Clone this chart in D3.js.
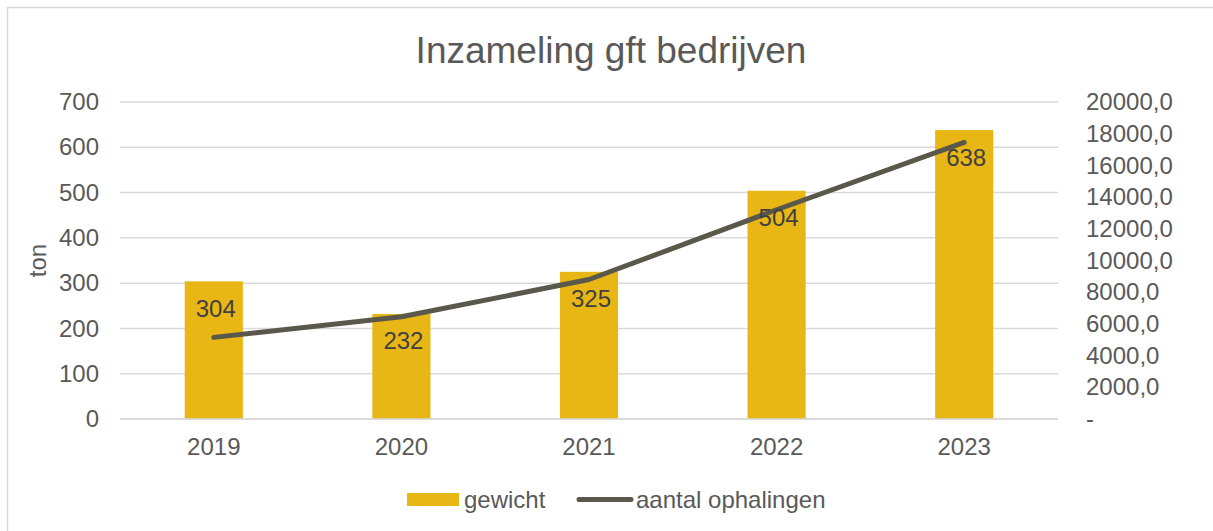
<!DOCTYPE html>
<html>
<head>
<meta charset="utf-8">
<script src="https://cdn.jsdelivr.net/npm/d3@7"></script>
<style>
  body { margin: 0; background: #fff; }
  svg { display: block; font-family: "Liberation Sans", Arial, sans-serif; }
</style>
</head>
<body>
<div id="chart"></div>
<script>
const years = ["2019", "2020", "2021", "2022", "2023"];
const gewicht = [304, 232, 325, 504, 638];
const ophalingen = [5150, 6450, 8800, 13200, 17450];
const leftTicks = [0, 100, 200, 300, 400, 500, 600, 700];
const rightTicks = [0, 2000, 4000, 6000, 8000, 10000, 12000, 14000, 16000, 18000, 20000];

const width = 1213, height = 531;
const margin = {top: 102, right: 155, bottom: 112, left: 120};
const visWidth = width - margin.left - margin.right;
const visHeight = height - margin.top - margin.bottom;

const barColor = "#E8B715";
const lineColor = "#59584A";
const textColor = "#595959";
const gridColor = "#D9D9D9";

const svg = d3.select("#chart").append("svg")
    .attr("width", width)
    .attr("height", height);

// chart border (only left/top visible)
svg.append("rect")
  .attr("x", 7.5).attr("y", 7.5)
  .attr("width", width + 20).attr("height", height + 20)
  .attr("fill", "none")
  .attr("stroke", gridColor)
  .attr("stroke-width", 1.5);

// title
svg.append("text")
  .attr("x", 611)
  .attr("y", 63)
  .attr("text-anchor", "middle")
  .attr("font-size", "37px")
  .attr("fill", textColor)
  .text("Inzameling gft bedrijven");

const g = svg.append("g")
  .attr("transform", `translate(${margin.left}, ${margin.top})`);

const x = d3.scaleBand()
  .domain(years)
  .range([0, visWidth])
  .paddingInner(0.69)
  .paddingOuter(0.345);

const y = d3.scaleLinear().domain([0, 700]).range([visHeight, 0]);
const y2 = d3.scaleLinear().domain([0, 20000]).range([visHeight, 0]);

// grid
g.append("g")
  .selectAll("line")
  .data(leftTicks)
  .join("line")
    .attr("x1", 0)
    .attr("x2", visWidth)
    .attr("y1", d => y(d))
    .attr("y2", d => y(d))
    .attr("stroke", gridColor)
    .attr("stroke-width", 1.5);

// left axis
const yAxis = d3.axisLeft(y).tickValues(leftTicks).tickSize(0).tickPadding(21);
g.append("g")
  .call(yAxis)
  .call(a => a.select(".domain").remove())
  .call(a => a.selectAll("text")
    .attr("font-size", "24px")
    .attr("font-family", "Liberation Sans, Arial, sans-serif")
    .attr("fill", textColor));

// right axis
const rightFormat = d => d === 0 ? "-" : d3.format(".1f")(d).replace(".", ",");
const y2Axis = d3.axisRight(y2).tickValues(rightTicks).tickFormat(rightFormat).tickSize(0).tickPadding(28);
g.append("g")
  .attr("transform", `translate(${visWidth}, 0)`)
  .call(y2Axis)
  .call(a => a.select(".domain").remove())
  .call(a => a.selectAll("text")
    .attr("font-size", "24px")
    .attr("font-family", "Liberation Sans, Arial, sans-serif")
    .attr("fill", textColor));

// axis title
g.append("text")
  .attr("transform", `translate(${37 - margin.left}, ${visHeight / 2}) rotate(-90)`)
  .attr("text-anchor", "middle")
  .attr("dominant-baseline", "central")
  .attr("font-size", "24px")
  .attr("fill", textColor)
  .text("ton");

// bars
g.selectAll("rect.bar")
  .data(years)
  .join("rect")
    .attr("class", "bar")
    .attr("x", d => x(d))
    .attr("y", (d, i) => y(gewicht[i]))
    .attr("width", x.bandwidth())
    .attr("height", (d, i) => visHeight - y(gewicht[i]))
    .attr("fill", barColor);

// baseline
g.append("line")
  .attr("x1", 0).attr("x2", visWidth)
  .attr("y1", visHeight).attr("y2", visHeight)
  .attr("stroke", gridColor)
  .attr("stroke-width", 1.5);

// x axis labels
const xAxis = d3.axisBottom(x).tickSize(0).tickPadding(19);
g.append("g")
  .attr("transform", `translate(0, ${visHeight})`)
  .call(xAxis)
  .call(a => a.select(".domain").remove())
  .call(a => a.selectAll("text")
    .attr("font-size", "24px")
    .attr("font-family", "Liberation Sans, Arial, sans-serif")
    .attr("fill", textColor));

// line
const line = d3.line()
  .x((d, i) => x(years[i]) + x.bandwidth() / 2)
  .y(d => y2(d));

g.append("path")
  .datum(ophalingen)
  .attr("d", line)
  .attr("fill", "none")
  .attr("stroke", lineColor)
  .attr("stroke-width", 5)
  .attr("stroke-linecap", "round")
  .attr("stroke-linejoin", "round");

// data labels
g.selectAll("text.label")
  .data(years)
  .join("text")
    .attr("class", "label")
    .attr("x", d => x(d) + x.bandwidth() / 2 + 2)
    .attr("y", (d, i) => y(gewicht[i]) + 27)
    .attr("text-anchor", "middle")
    .attr("dominant-baseline", "central")
    .attr("font-size", "24px")
    .attr("fill", "#404040")
    .text((d, i) => gewicht[i]);

// legend
const legend = svg.append("g");
legend.append("rect")
  .attr("x", 407).attr("y", 493)
  .attr("width", 52).attr("height", 13)
  .attr("fill", barColor);
legend.append("text")
  .attr("x", 464).attr("y", 499)
  .attr("dominant-baseline", "central")
  .attr("font-size", "24px")
  .attr("fill", textColor)
  .text("gewicht");
legend.append("line")
  .attr("x1", 579).attr("x2", 631)
  .attr("y1", 499.5).attr("y2", 499.5)
  .attr("stroke", lineColor)
  .attr("stroke-width", 5)
  .attr("stroke-linecap", "round");
legend.append("text")
  .attr("x", 636).attr("y", 499)
  .attr("dominant-baseline", "central")
  .attr("font-size", "24px")
  .attr("fill", textColor)
  .text("aantal ophalingen");
</script>
</body>
</html>
